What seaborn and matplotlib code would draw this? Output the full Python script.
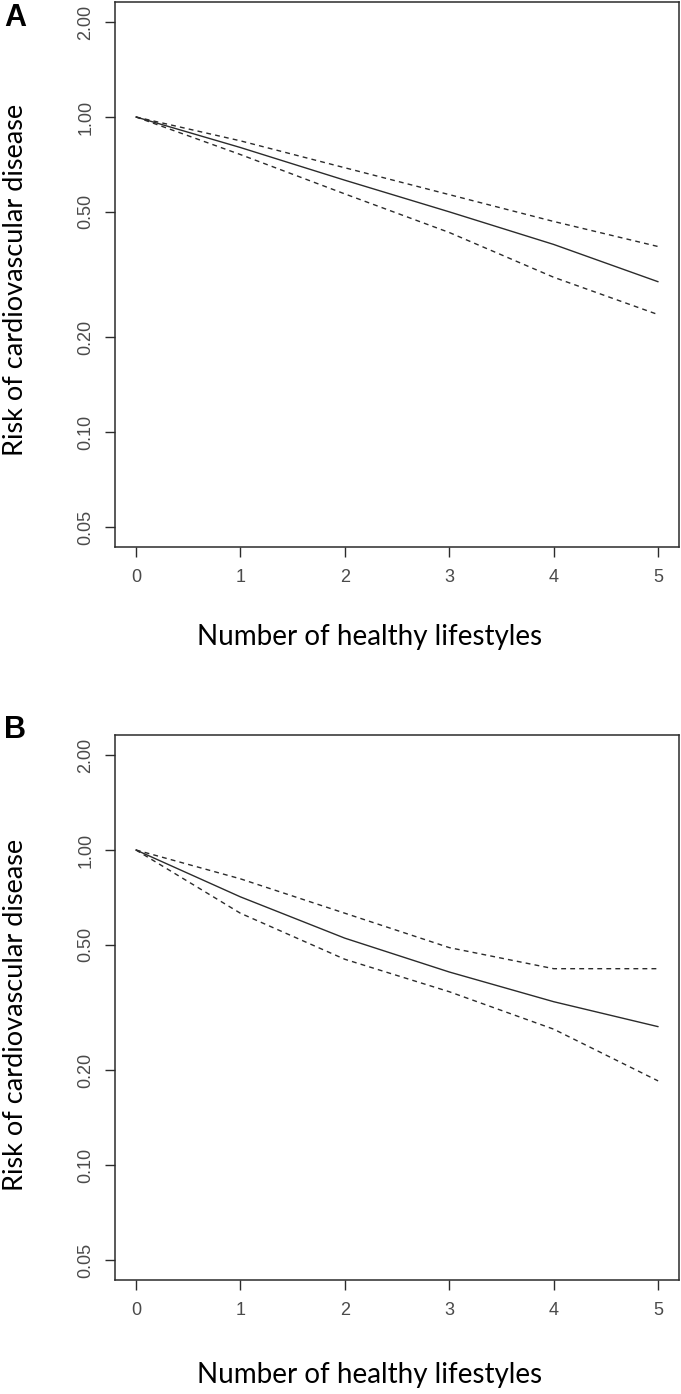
import matplotlib
matplotlib.use("Agg")
import matplotlib.pyplot as plt
from matplotlib.ticker import FixedLocator, NullLocator
import seaborn as sns
import pandas as pd

# ── data ─────────────────────────────────────
lifestyles = [0, 1, 2, 3, 4, 5]

a_risk  = [1.00, 0.80, 0.63, 0.50, 0.394, 0.300]
a_upper = [1.00, 0.84, 0.69, 0.567, 0.466, 0.388]
a_lower = [1.00, 0.76, 0.57, 0.43, 0.310, 0.236]

b_risk  = [1.00, 0.71, 0.525, 0.41, 0.330, 0.275]
b_upper = [1.00, 0.81, 0.63, 0.49, 0.420, 0.420]
b_lower = [1.00, 0.63, 0.45, 0.355, 0.270, 0.185]

y_ticks = [0.05, 0.10, 0.20, 0.50, 1.00, 2.00]
y_tick_labels = ["0.05", "0.10", "0.20", "0.50", "1.00", "2.00"]

panel_labels = ["A", "B"]
x_title = "Number of healthy lifestyles"
y_title = "Risk of cardiovascular disease"

# ── style ────────────────────────────────────
sns.set_theme(style="white")
plt.rcParams["font.family"] = ["Liberation Sans", "DejaVu Sans"]

W, H = 681, 1394
fig = plt.figure(figsize=(W / 100, H / 100), dpi=100)

LINE = "#2b2b2b"
GREY = "#4a4a4a"

# axes boxes in pixels: (left, top, right, bottom)
boxes = [(115, 2, 679, 547), (115, 735, 679, 1280)]
xlabel_y = [637, 1375]
ylabel_y = [280, 1015]
letter_y = [18, 730]

panels = [(a_risk, a_upper, a_lower), (b_risk, b_upper, b_lower)]

for i, (risk, upper, lower) in enumerate(panels):
    l, t, r, b = boxes[i]
    ax = fig.add_axes([l / W, 1 - b / H, (r - l) / W, (b - t) / H])

    df = pd.DataFrame({
        "x": lifestyles * 3,
        "y": risk + upper + lower,
        "series": ["est"] * 6 + ["upper"] * 6 + ["lower"] * 6,
    })
    sns.lineplot(data=df, x="x", y="y", style="series",
                 dashes={"est": "", "upper": (3.5, 3), "lower": (3.5, 3)},
                 color=LINE, linewidth=1.0, errorbar=None, legend=False, ax=ax)

    ax.set_yscale("log")
    ax.set_xlim(-0.2, 5.2)
    ax.set_ylim(0.0432, 2.316)

    ax.yaxis.set_major_locator(FixedLocator(y_ticks))
    ax.yaxis.set_minor_locator(NullLocator())
    ax.set_yticklabels(y_tick_labels, rotation=90, va="center")
    ax.set_xticks(lifestyles)
    ax.set_xticklabels([str(v) for v in lifestyles])

    # x ticks cross the axis line: longer inside, shorter outside
    ax.xaxis.remove_overlapping_locs = False
    ax.xaxis.set_minor_locator(FixedLocator(lifestyles))
    ax.tick_params(axis="x", which="major", direction="in", length=12.5,
                   width=1.0, color=LINE, pad=16, labelsize=13, labelcolor=GREY)
    ax.tick_params(axis="x", which="minor", direction="out", length=7,
                   width=1.0, color=LINE, bottom=True)
    ax.tick_params(axis="y", which="major", direction="out", length=7,
                   width=1.0, color=LINE, pad=8, labelsize=13, labelcolor=GREY,
                   left=True)

    for s in ax.spines.values():
        s.set_color(LINE)
        s.set_linewidth(1.1)

    ax.set_xlabel("")
    ax.set_ylabel("")

    fig.text(370 / W, 1 - xlabel_y[i] / H, x_title, ha="center", va="center",
             fontsize=20, family=["Lato", "DejaVu Sans"], color="black")
    fig.text(16 / W, 1 - ylabel_y[i] / H, y_title, ha="center", va="center",
             rotation=90, fontsize=19.5, family=["Lato", "DejaVu Sans"], color="black")
    fig.text(15 / W, 1 - letter_y[i] / H, panel_labels[i], ha="center", va="center",
             fontsize=22, fontweight="bold", color="black")

fig.savefig("out.png", dpi=100, facecolor="white")
